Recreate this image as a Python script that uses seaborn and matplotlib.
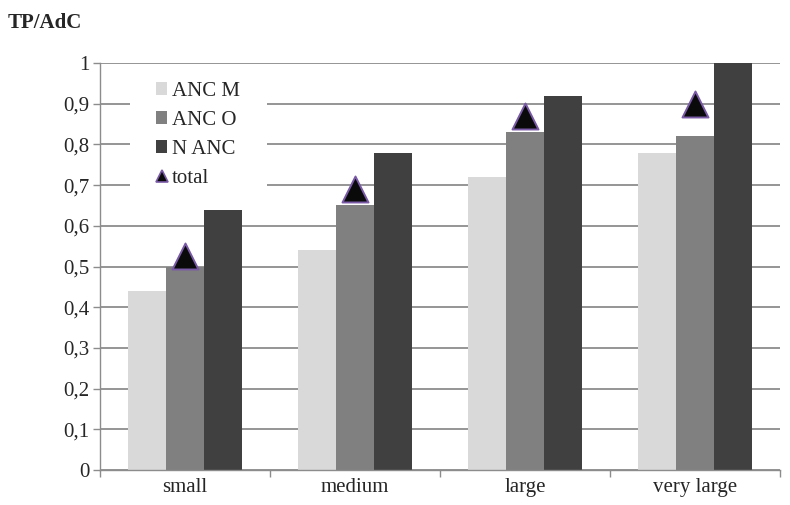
import matplotlib
matplotlib.use("Agg")
import matplotlib.pyplot as plt
import seaborn as sns
import pandas as pd
import numpy as np
from matplotlib.lines import Line2D
from matplotlib.patches import Patch, Rectangle

categories = ["small", "medium", "large", "very large"]
series = ["ANC M", "ANC O", "N ANC"]
anc_m = [0.44, 0.54, 0.72, 0.78]
anc_o = [0.50, 0.65, 0.83, 0.82]
n_anc = [0.64, 0.78, 0.92, 1.00]
total = [0.525, 0.69, 0.87, 0.90]
yticks = [0, 0.1, 0.2, 0.3, 0.4, 0.5, 0.6, 0.7, 0.8, 0.9, 1.0]
ytick_labels = ["0", "0,1", "0,2", "0,3", "0,4", "0,5", "0,6", "0,7", "0,8", "0,9", "1"]

colors = ["#d9d9d9", "#808080", "#404040"]
FS = 15

sns.set_theme(style="white")
plt.rcParams["font.family"] = ["Liberation Serif", "DejaVu Serif"]

df = pd.DataFrame({
    "cat": categories * 3,
    "series": [s for s in series for _ in categories],
    "val": anc_m + anc_o + n_anc,
})

W, H = 790, 505
fig = plt.figure(figsize=(W / 100, H / 100), dpi=100)
ax = fig.add_axes([100 / W, (H - 470) / H, 680 / W, 407 / H])
sns.barplot(data=df, x="cat", y="val", hue="series", palette=colors,
            width=0.67, saturation=1, ax=ax, legend=False, zorder=2)
for p in ax.patches:
    p.set_linewidth(0)

xpos = np.arange(len(categories))
ax.scatter(xpos, total, marker="^", s=350, c="#0a0a0a",
           edgecolors="#7a5aa6", linewidths=1.4, zorder=4)

ax.set_ylim(0, 1.0)
ax.set_xlim(-0.5, 3.5)
ax.set_yticks(yticks)
ax.set_yticklabels(ytick_labels, fontsize=FS)
ax.yaxis.grid(True, color="#8c8c8c", linewidth=1.3, zorder=0)
ax.set_axisbelow(True)
ax.set_xticks(xpos)
ax.set_xticklabels(categories, fontsize=FS)
ax.tick_params(axis="x", which="major", length=0, pad=6)
ax.set_xticks([-0.5, 0.5, 1.5, 2.5, 3.5], minor=True)
ax.tick_params(axis="x", which="minor", length=5, width=1, color="#8c8c8c", direction="out", bottom=True)
ax.tick_params(axis="y", length=5, width=1, color="#8c8c8c", direction="out", left=True, pad=2.5)
ax.set_xlabel("")
ax.set_ylabel("")
for s in ["top", "right"]:
    ax.spines[s].set_visible(False)
for s in ["left", "bottom"]:
    ax.spines[s].set_color("#8c8c8c")
    ax.spines[s].set_linewidth(1)

# white background behind legend (masks gridlines)
ax.add_artist(Rectangle(((130 - 100) / 680, (470 - 198) / 407), 137 / 680, 126 / 407,
                        transform=ax.transAxes, facecolor="white", edgecolor="none", zorder=1))

handles = [Patch(facecolor=c, edgecolor="none") for c in colors]
handles.append(Line2D([], [], marker="^", linestyle="none", markersize=9,
                      markerfacecolor="#0a0a0a", markeredgecolor="#7a5aa6", markeredgewidth=1.2))
leg = ax.legend(handles, series + ["total"], loc="upper left",
                bbox_to_anchor=((156 - 100) / 680, (470 - 82) / 407), frameon=False, fontsize=FS,
                handlelength=0.53, handleheight=0.53, handletextpad=0.25,
                labelspacing=0.48, borderpad=0, borderaxespad=0)
leg.set_zorder(5)

fig.text(8 / W, 1 - 23 / H, "TP/AdC", fontsize=FS, fontweight="bold", ha="left", va="center")

fig.savefig("out.png", dpi=100, facecolor="white")
